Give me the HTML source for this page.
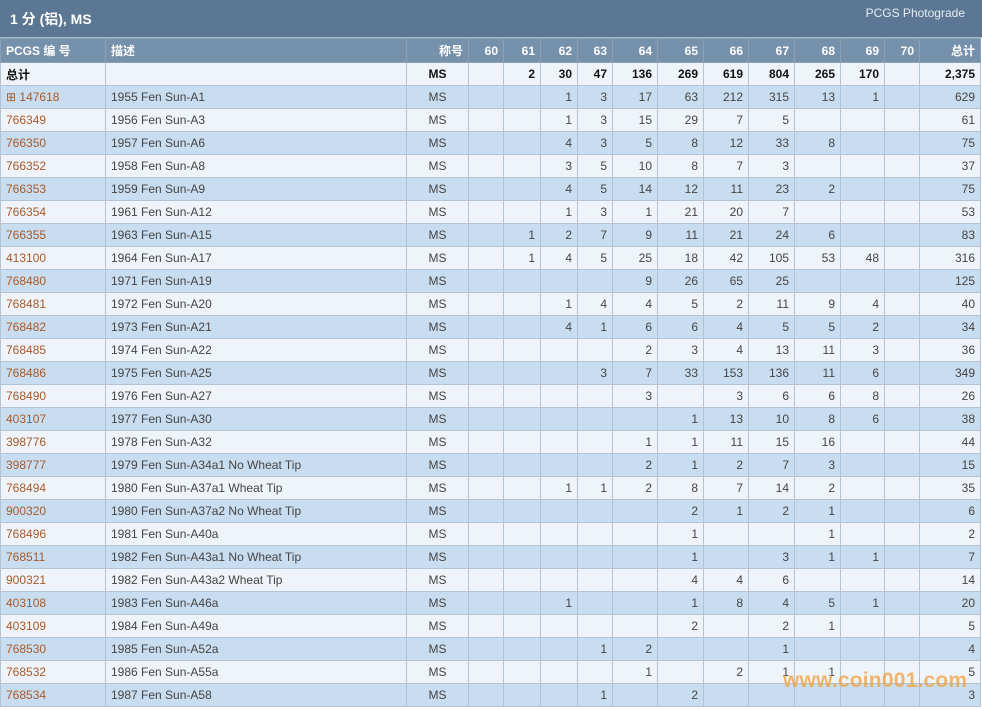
<!DOCTYPE html><html><head><meta charset="utf-8"><style>
body{margin:0;width:982px;height:710px;overflow:hidden;background:#fff;font-family:"Liberation Sans","Noto Sans CJK SC",sans-serif;position:relative}
.title{height:37px;background:#5b7793;color:#fff;position:relative;border-bottom:1px solid #a9bccd}
.title b{position:absolute;left:10px;top:9px;font-size:14px}
.title span{position:absolute;right:17px;top:6px;font-size:12px;color:#e6edf3}
table{border-collapse:collapse;table-layout:fixed;width:980px;font-size:12px}
td,th{height:22px;padding:0 5px;border:1px solid #b4c3d1;white-space:nowrap;overflow:hidden;text-align:right;color:#444}
th{background:#7591ab;color:#fff;height:23px;border-color:#8aa2b8;font-size:12px}
tr.t td{background:#e1e1e1;color:#111;font-weight:bold}
tr:nth-child(even) td{background:#c9ddf0}
tr:nth-child(odd) td{background:#eef4fa}
td.l,th.l{text-align:left}
td.c,th.c{text-align:center}
td.n{color:#a85a2a}
.wm{position:absolute;left:783px;top:669px;font:bold 21px "Liberation Sans",sans-serif;color:rgba(240,160,60,0.75);letter-spacing:0.2px}
</style></head><body>
<div class="title"><b>1 分 (铝), MS</b><span>PCGS Photograde</span></div>
<table>
<colgroup><col style="width:105px"><col style="width:301px"><col style="width:62px"><col style="width:35px"><col style="width:37px"><col style="width:37px"><col style="width:35px"><col style="width:45px"><col style="width:46px"><col style="width:45px"><col style="width:46px"><col style="width:46px"><col style="width:44px"><col style="width:35px"><col style="width:61px"></colgroup>
<thead><tr><th class="l">PCGS 编 号</th><th class="l">描述</th><th>称号</th><th>60</th><th>61</th><th>62</th><th>63</th><th>64</th><th>65</th><th>66</th><th>67</th><th>68</th><th>69</th><th>70</th><th>总计</th></tr></thead>
<tbody id="tb">
<tr class="t"><td class="l">总计</td><td></td><td class="c">MS</td><td></td><td>2</td><td>30</td><td>47</td><td>136</td><td>269</td><td>619</td><td>804</td><td>265</td><td>170</td><td></td><td>2,375</td></tr>
</tbody></table>
<div class="wm">www.coin001.com</div>
<script>
var d=[
["⊞ 147618","1955 Fen Sun-A1","","","1","3","17","63","212","315","13","1","","629"],
["766349","1956 Fen Sun-A3","","","1","3","15","29","7","5","","","","61"],
["766350","1957 Fen Sun-A6","","","4","3","5","8","12","33","8","","","75"],
["766352","1958 Fen Sun-A8","","","3","5","10","8","7","3","","","","37"],
["766353","1959 Fen Sun-A9","","","4","5","14","12","11","23","2","","","75"],
["766354","1961 Fen Sun-A12","","","1","3","1","21","20","7","","","","53"],
["766355","1963 Fen Sun-A15","","1","2","7","9","11","21","24","6","","","83"],
["413100","1964 Fen Sun-A17","","1","4","5","25","18","42","105","53","48","","316"],
["768480","1971 Fen Sun-A19","","","","","9","26","65","25","","","","125"],
["768481","1972 Fen Sun-A20","","","1","4","4","5","2","11","9","4","","40"],
["768482","1973 Fen Sun-A21","","","4","1","6","6","4","5","5","2","","34"],
["768485","1974 Fen Sun-A22","","","","","2","3","4","13","11","3","","36"],
["768486","1975 Fen Sun-A25","","","","3","7","33","153","136","11","6","","349"],
["768490","1976 Fen Sun-A27","","","","","3","","3","6","6","8","","26"],
["403107","1977 Fen Sun-A30","","","","","","1","13","10","8","6","","38"],
["398776","1978 Fen Sun-A32","","","","","1","1","11","15","16","","","44"],
["398777","1979 Fen Sun-A34a1 No Wheat Tip","","","","","2","1","2","7","3","","","15"],
["768494","1980 Fen Sun-A37a1 Wheat Tip","","","1","1","2","8","7","14","2","","","35"],
["900320","1980 Fen Sun-A37a2 No Wheat Tip","","","","","","2","1","2","1","","","6"],
["768496","1981 Fen Sun-A40a","","","","","","1","","","1","","","2"],
["768511","1982 Fen Sun-A43a1 No Wheat Tip","","","","","","1","","3","1","1","","7"],
["900321","1982 Fen Sun-A43a2 Wheat Tip","","","","","","4","4","6","","","","14"],
["403108","1983 Fen Sun-A46a","","","1","","","1","8","4","5","1","","20"],
["403109","1984 Fen Sun-A49a","","","","","","2","","2","1","","","5"],
["768530","1985 Fen Sun-A52a","","","","1","2","","","1","","","","4"],
["768532","1986 Fen Sun-A55a","","","","","1","","2","1","1","","","5"],
["768534","1987 Fen Sun-A58","","","","1","","2","","","","","","3"]];
var h="";d.forEach(function(r){h+='<tr><td class="l n">'+r[0]+'</td><td class="l">'+r[1]+'</td><td class="c">MS</td>';for(var i=2;i<14;i++)h+='<td>'+r[i]+'</td>';h+='</tr>';});
document.getElementById('tb').insertAdjacentHTML('beforeend',h);
</script>
</body></html>
